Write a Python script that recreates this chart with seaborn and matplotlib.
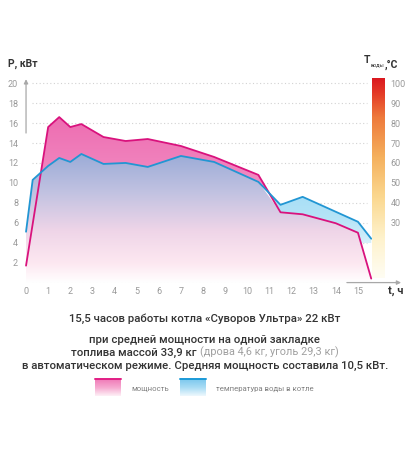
import numpy as np
import matplotlib
matplotlib.use("Agg")
import matplotlib.pyplot as plt
import seaborn as sns
from matplotlib.colors import LinearSegmentedColormap
from matplotlib.path import Path

# data
power_t = [0, 1.0, 1.5, 2.0, 2.5, 3.5, 4.5, 5.5, 7.0, 8.5, 10.5, 11.5, 12.5, 14.0, 15.0, 15.6]
power_kw = [1.7, 15.6, 16.6, 15.6, 15.9, 14.6, 14.2, 14.4, 13.7, 12.6, 10.8, 7.05, 6.85, 5.95, 5.0, 0.4]

temp_t = [0, 0.3, 1.0, 1.5, 2.0, 2.5, 3.5, 4.5, 5.5, 7.0, 8.5, 10.5, 11.5, 12.5, 15.0, 15.6]
water_temp = [25.5, 51.5, 58.5, 62.5, 60.5, 64.5, 59.5, 60.0, 58.0, 63.5, 60.5, 50.5, 39.0, 43.0, 30.5, 22.0]

x_ticks = list(range(0, 16))
y_ticks = list(range(2, 21, 2))
temp_ticks = list(range(30, 101, 10))

title_lines = ["15,5 часов работы котла «Суворов Ультра» 22 кВт",
               "при средней мощности на одной закладке"]
line3_main = "топлива массой 33,9 кг "
line3_note = "(дрова 4,6 кг, уголь 29,3 кг)"
line4 = "в автоматическом режиме. Средняя мощность составила 10,5 кВт."
legend_labels = ["мощность", "температура воды в котле"]

sns.set_style("white")
plt.rcParams['font.family'] = ['Roboto', 'DejaVu Sans']

PINK = '#d9127d'
BLUE = '#2196d3'
GRAY = '#999999'
DARK = '#333333'

fig = plt.figure(figsize=(4.10, 4.58), dpi=100)
ax = fig.add_axes([0.0473, 0.3830, 0.9337, 0.4528])

# right scale: 100 °C sits level with 20 kW
temp_scaled = np.array(water_temp) / 5.0

# common grid of the two broken lines, for the fills
tt = np.union1d(power_t, temp_t)
pp = np.interp(tt, power_t, power_kw)
qq = np.interp(tt, temp_t, temp_scaled)
low = np.minimum(pp, qq)


def grad_fill(ax, x, y1, y2, colors, y0, yh, where=None):
    poly = ax.fill_between(x, y1, y2, where=where, interpolate=True,
                           facecolor='none', edgecolor='none')
    paths = poly.get_paths()
    if not paths:
        return
    path = Path.make_compound_path(*paths)
    cmap = LinearSegmentedColormap.from_list('g', colors)
    im = ax.imshow(np.linspace(1, 0, 256).reshape(-1, 1), cmap=cmap,
                   extent=[x.min(), x.max(), y0, yh], aspect='auto',
                   interpolation='bicubic', zorder=1)
    im.set_clip_path(path, transform=ax.transData)


# under both lines (the start, where water is above power, is left in it too)
start = tt <= 0.5
grad_fill(ax, tt, 0, np.where(start, qq, low),
          [(0, '#ffffff'), (0.15, '#fde8f1'), (0.4, '#efd5e8'),
           (0.7, '#c1c2e1'), (1, '#9aabd7')], 0, 13)
grad_fill(ax, tt, qq, pp, ['#f5a6cf', '#f186bf', '#ed6bb0'], 5, 17, where=pp >= qq)
grad_fill(ax, tt, pp, qq, ['#d6f0fb', '#b5e4f7', '#a6def6'], 4, 9,
          where=(qq >= pp) & (tt > 5))

# dotted grid
for y in [0] + y_ticks:
    ax.plot([0.25, 15.4 if y > 0 else 14.5], [y, y], color='#d2d2d2',
            lw=0.8, ls=(0, (1, 2.2)), zorder=0)

sns.lineplot(x=power_t, y=power_kw, ax=ax, color=PINK, lw=1.3, zorder=3)
sns.lineplot(x=temp_t, y=temp_scaled, ax=ax, color=BLUE, lw=1.3, zorder=3)

# axis arrows
ax.annotate('', xy=(0, 20.4), xytext=(0, 15.0),
            arrowprops=dict(arrowstyle='-|>', color='#a8a8a8', lw=0.9,
                            mutation_scale=6, shrinkA=0, shrinkB=0))
ax.annotate('', xy=(16.95, 0), xytext=(14.5, 0), annotation_clip=False,
            arrowprops=dict(arrowstyle='-|>', color='#a8a8a8', lw=0.9,
                            mutation_scale=6, shrinkA=0, shrinkB=0))

ax.set_xlim(-0.3, 17)
ax.set_ylim(0, 20.8)
ax.set_xticks(x_ticks)
ax.set_xticklabels([str(v) for v in x_ticks])
ax.set_yticks(y_ticks)
ax.set_yticklabels([str(v) for v in y_ticks])
ax.tick_params(length=0, labelsize=6.5, labelcolor=GRAY)
ax.tick_params(axis='x', pad=3.3)
ax.tick_params(axis='y', pad=1)
sns.despine(ax=ax, left=True, bottom=True)
ax.set_xlabel('')
ax.set_ylabel('')

# colour bar of water temperature
cax = fig.add_axes([0.9073, 0.393, 0.0317, 0.4367])
tcmap = LinearSegmentedColormap.from_list(
    't', [(0, '#fffdf3'), (0.2, '#fef2cc'), (0.4, '#fbd890'), (0.6, '#f5b15e'),
          (0.8, '#ee7a3c'), (0.92, '#e43b27'), (1, '#da161f')])
cax.imshow(np.linspace(1, 0, 256).reshape(-1, 1), cmap=tcmap,
           extent=[0, 1, 1.7, 103], aspect='auto')
cax.set_ylim(1.7, 103)
cax.set_xticks([])
cax.set_yticks(temp_ticks)
cax.yaxis.tick_right()
cax.tick_params(length=0, labelsize=6.5, labelcolor=GRAY, pad=4)
for s in cax.spines.values():
    s.set_visible(False)

# overlay in pixel coordinates for the texts
fa = fig.add_axes([0, 0, 1, 1], zorder=-1)
fa.set_xlim(0, 410)
fa.set_ylim(458, 0)
fa.axis('off')

fa.text(8, 64, "P, кВт", fontsize=7.5, color=DARK, weight='bold', va='center')
fa.text(388, 291, "t, ч", fontsize=8, color=DARK, weight='bold', va='center')
tT = fa.text(364, 60, "T", fontsize=7.5, color=DARK, weight='bold', va='center')
tS = fa.annotate("воды", xy=(1, 0), xycoords=tT, fontsize=4, color=DARK,
                 va='center', xytext=(0.3, 0), textcoords='offset points')
fa.annotate(",°C", xy=(1, 1), xycoords=tS, fontsize=7.5, color=DARK,
            weight='bold', va='top', xytext=(0, 2.3), textcoords='offset points')

FS = 8.2
tkw = dict(fontsize=FS, color=DARK, ha='center', va='center', weight='medium')
fa.text(205, 319, title_lines[0], **tkw)
fa.text(205, 340, title_lines[1], **tkw)
fa.text(205, 366, line4, **tkw)

# third line has two weights, so centre it by hand
r = fig.canvas.get_renderer()
a = fa.text(0, 352.5, line3_main, fontsize=FS, color=DARK, va='center', weight='medium')
b = fa.text(0, 352.5, line3_note, fontsize=FS - 0.4, color='#a0a0a0', va='center')
inv = fa.transData.inverted()
wa = inv.transform(a.get_window_extent(r))[:, 0]
wb = inv.transform(b.get_window_extent(r))[:, 0]
wa = wa[1] - wa[0]
wb = wb[1] - wb[0]
x0 = 205 - (wa + wb) / 2
a.set_x(x0)
b.set_x(x0 + wa)

# legend swatches
sw = [('#e21e85', ['#fef0f6', '#f6a9d0', '#f07ab8']),
      ('#1b9ad8', ['#eef8fd', '#a9dcf4', '#7cc8ee'])]
sx = [95, 180]
for (top, cols), x, lab in zip(sw, sx, legend_labels):
    cm = LinearSegmentedColormap.from_list('s', cols)
    fa.imshow(np.linspace(1, 0, 64).reshape(-1, 1), cmap=cm,
              extent=[x, x + 26, 396, 379], aspect='auto', zorder=1)
    fa.plot([x, x + 26], [378.6, 378.6], color=top, lw=1.4, zorder=2)
    fa.text(x + 36, 388.5, lab, fontsize=5.6, color='#808080', va='center')
fa.set_xlim(0, 410)
fa.set_ylim(458, 0)

fig.savefig('out.png', dpi=100)
